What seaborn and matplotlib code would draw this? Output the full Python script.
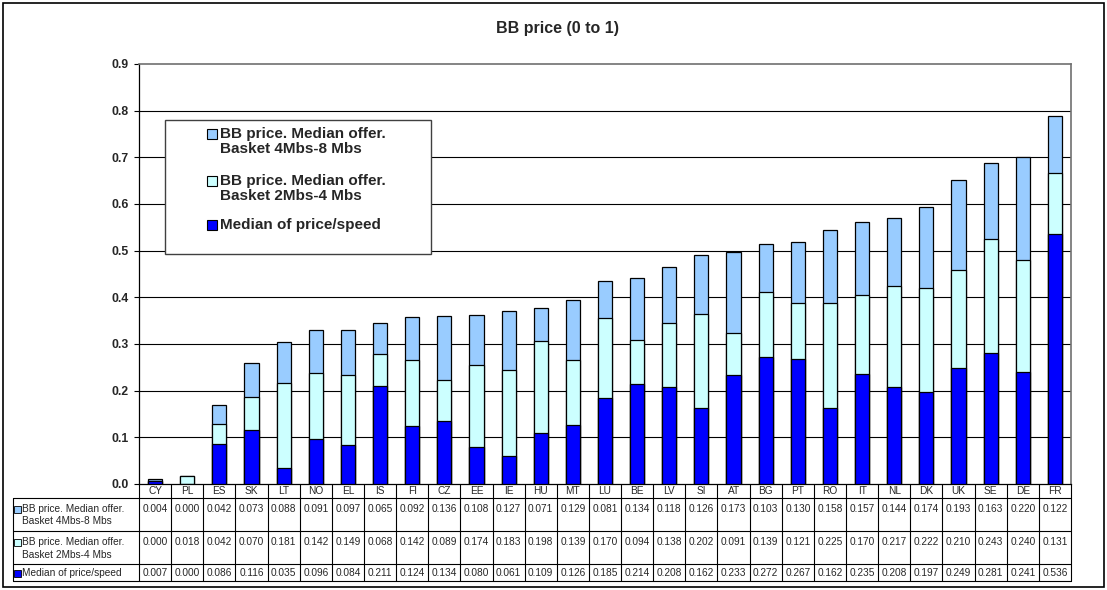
import matplotlib
matplotlib.use("Agg")
import matplotlib.pyplot as plt
import seaborn as sns
import numpy as np
import pandas as pd
from matplotlib.lines import Line2D
from matplotlib.patches import Rectangle

countries = ["CY", "PL", "ES", "SK", "LT", "NO", "EL", "IS", "FI", "CZ", "EE", "IE", "HU", "MT",
             "LU", "BE", "LV", "SI", "AT", "BG", "PT", "RO", "IT", "NL", "DK", "UK", "SE", "DE", "FR"]
basket_4_8 = [0.004, 0.000, 0.042, 0.073, 0.088, 0.091, 0.097, 0.065, 0.092, 0.136, 0.108, 0.127, 0.071, 0.129,
              0.081, 0.134, 0.118, 0.126, 0.173, 0.103, 0.130, 0.158, 0.157, 0.144, 0.174, 0.193, 0.163, 0.220, 0.122]
basket_2_4 = [0.000, 0.018, 0.042, 0.070, 0.181, 0.142, 0.149, 0.068, 0.142, 0.089, 0.174, 0.183, 0.198, 0.139,
              0.170, 0.094, 0.138, 0.202, 0.091, 0.139, 0.121, 0.225, 0.170, 0.217, 0.222, 0.210, 0.243, 0.240, 0.131]
median_ps = [0.007, 0.000, 0.086, 0.116, 0.035, 0.096, 0.084, 0.211, 0.124, 0.134, 0.080, 0.061, 0.109, 0.126,
             0.185, 0.214, 0.208, 0.162, 0.233, 0.272, 0.267, 0.162, 0.235, 0.208, 0.197, 0.249, 0.281, 0.241, 0.536]
series_labels = ["BB price. Median offer.\nBasket 4Mbs-8 Mbs",
                 "BB price. Median offer.\nBasket 2Mbs-4 Mbs",
                 "Median of price/speed"]
yticks = [0.0, 0.1, 0.2, 0.3, 0.4, 0.5, 0.6, 0.7, 0.8, 0.9]
title = "BB price (0 to 1)"

c_top = "#99CCFF"
c_mid = "#CCFFFF"
c_bot = "#0000FF"
colors = [c_top, c_mid, c_bot]

sns.set_style("white")
plt.rcParams["font.family"] = ["Liberation Sans", "DejaVu Sans"]

df = pd.DataFrame({"country": countries, "b48": basket_4_8, "b24": basket_2_4, "med": median_ps})
df["lvl2"] = df["med"] + df["b24"]
df["lvl3"] = df["lvl2"] + df["b48"]

W, H = 1107, 590
fig = plt.figure(figsize=(W / 100, H / 100), dpi=100)
ax = fig.add_axes([139 / W, 1 - 484 / H, (1071 - 139) / W, (484 - 64) / H])

bw = 0.44
for col, c in zip(["lvl3", "lvl2", "med"], colors):
    sns.barplot(data=df, x="country", y=col, color=c, saturation=1, width=bw,
                edgecolor="black", linewidth=0.9, ax=ax, order=countries, zorder=3)

n = len(countries)
ax.set_xlim(-0.5, n - 0.5)
ax.set_ylim(0, 0.9)
ax.set_yticks(yticks)
ax.set_yticklabels([f"{v:.1f}" for v in yticks], fontsize=8.8, fontweight="bold")
ax.set_xticks([])
ax.set_xlabel("")
ax.set_ylabel("")
ax.tick_params(axis="y", direction="out", length=3.6, width=0.8, color="black", pad=3.6, left=True)
for v in yticks[1:-1]:
    ax.axhline(v, color="black", lw=0.8, zorder=1)
for s in ["top", "right"]:
    ax.spines[s].set_color("#707070")
    ax.spines[s].set_linewidth(1.2)
for s in ["left", "bottom"]:
    ax.spines[s].set_color("black")
    ax.spines[s].set_linewidth(0.9)

fig.text(557 / W, 1 - 29 / H, title, ha="center", va="center", fontsize=11.5, fontweight="bold")

# legend (manually laid out, Excel style)
def fx(px):
    return px / W

def fy(py):
    return 1 - py / H

fig.patches.append(Rectangle((fx(165), fy(254)), fx(431 - 165), (254 - 120) / H, facecolor="white",
                             edgecolor="#404040", lw=1.0, transform=fig.transFigure, figure=fig, zorder=5))
entry_y = [134, 181, 225]
for lab, c, ey in zip(series_labels, colors, entry_y):
    fig.patches.append(Rectangle((fx(207), fy(ey + 4.5)), 10 / W, 10 / H, facecolor=c, edgecolor="black",
                                 lw=0.8, transform=fig.transFigure, figure=fig, zorder=6))
    for k, line in enumerate(lab.split("\n")):
        fig.text(fx(220), fy(ey + 15.5 * k), line, ha="left", va="center", fontsize=11,
                 fontweight="bold", zorder=7)

# data table
def ypx(p):
    return (484 - p) / 420.0

trans = ax.get_xaxis_transform()
xl_label = -0.5 - (139 - 13) / ((1071 - 139) / n)
row_edges = [484, 498, 531, 564, 581]
lc = "black"
lw = 0.8
for p in row_edges[1:]:
    ax.add_line(Line2D([xl_label, n - 0.5], [ypx(p), ypx(p)], transform=trans, color=lc, lw=lw, clip_on=False))
for i in range(n + 1):
    ax.add_line(Line2D([i - 0.5, i - 0.5], [ypx(484), ypx(581)], transform=trans, color=lc, lw=lw, clip_on=False))
ax.add_line(Line2D([xl_label, xl_label], [ypx(498), ypx(581)], transform=trans, color=lc, lw=lw, clip_on=False))

fs = 7.3
for i, c in enumerate(countries):
    ax.text(i, ypx(491.5), c, transform=trans, ha="center", va="center", fontsize=fs)
rows = [basket_4_8, basket_2_4, median_ps]
row_text_y = [509, 542, 573]
for r, vals in enumerate(rows):
    for i, v in enumerate(vals):
        ax.text(i, ypx(row_text_y[r]), f"{v:.3f}", transform=trans, ha="center", va="center", fontsize=fs)
    fig.patches.append(Rectangle((fx(14), fy(row_text_y[r] + 3.5)), 7 / W, 7 / H,
                                 facecolor=colors[r], edgecolor="black", lw=0.6,
                                 transform=fig.transFigure, figure=fig))
    for k, line in enumerate(series_labels[r].split("\n")):
        fig.text(fx(22), fy(row_text_y[r] + 12.5 * k), line, ha="left", va="center", fontsize=fs)

# outer border
fig.patches.append(Rectangle((3 / W, 3 / H), (W - 6) / W, (H - 6) / H, facecolor="none",
                             edgecolor="black", lw=1.2, transform=fig.transFigure, figure=fig))

fig.savefig("out.png", dpi=100)
